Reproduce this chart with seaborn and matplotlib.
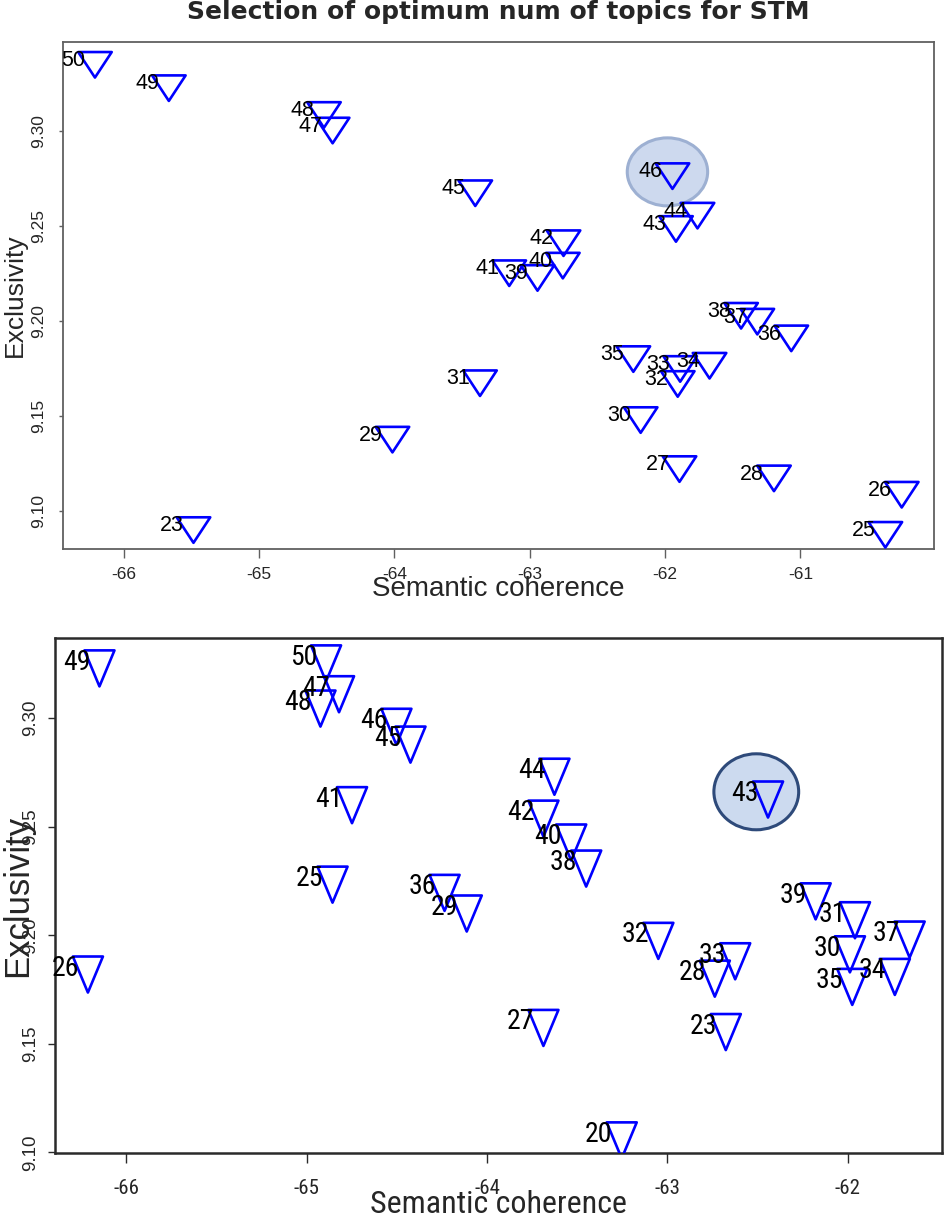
import numpy as np
import pandas as pd
import matplotlib
matplotlib.use('Agg')
import matplotlib.pyplot as plt
from matplotlib import font_manager
from matplotlib.markers import MarkerStyle
from matplotlib.path import Path
from matplotlib.patches import Ellipse
import seaborn as sns

# ---- data ----
top_topics = [50, 49, 48, 47, 46, 45, 44, 43, 42, 41, 40, 39, 38, 37,
              36, 35, 34, 33, 32, 31, 30, 29, 28, 27, 26, 25, 23]
top_coherence = [-66.212, -65.666, -64.520, -64.456, -61.945, -63.402, -61.760,
                 -61.919, -62.750, -63.151, -62.755, -62.942, -61.438, -61.318,
                 -61.067, -62.234, -61.671, -61.888, -61.906, -63.367, -62.180,
                 -64.014, -61.195, -61.893, -60.251, -60.372, -65.484]
top_exclusivity = [9.3370, 9.3247, 9.3106, 9.3024, 9.2784, 9.2694, 9.2576,
                   9.2506, 9.2431, 9.2273, 9.2313, 9.2248, 9.2049, 9.2018,
                   9.1930, 9.1821, 9.1786, 9.1769, 9.1690, 9.1694, 9.1500,
                   9.1397, 9.1193, 9.1242, 9.1107, 9.0896, 9.0921]
top_pick = 46

bottom_topics = [49, 50, 47, 48, 46, 45, 44, 43, 42, 41, 40, 39, 38, 37,
                 36, 35, 34, 33, 32, 31, 30, 29, 28, 27, 26, 25, 23, 20]
bottom_coherence = [-66.148, -64.892, -64.820, -64.923, -64.502, -64.424, -63.626,
                    -62.442, -63.687, -64.748, -63.533, -62.178, -63.450, -61.657,
                    -64.235, -61.975, -61.739, -62.624, -63.050, -61.960, -61.988,
                    -64.112, -62.737, -63.687, -66.212, -64.856, -62.676, -63.253]
bottom_exclusivity = [9.3257, 9.3280, 9.3138, 9.3072, 9.2988, 9.2906, 9.2758,
                      9.2653, 9.2565, 9.2627, 9.2455, 9.2184, 9.2335, 9.2008,
                      9.2223, 9.1790, 9.1836, 9.1908, 9.2002, 9.2097, 9.1940,
                      9.2128, 9.1828, 9.1601, 9.1847, 9.2261, 9.1582, 9.1083]
bottom_pick = 43

top_xticks = [-66, -65, -64, -63, -62, -61]
bottom_xticks = [-66, -65, -64, -63, -62]
yticks = [9.10, 9.15, 9.20, 9.25, 9.30]

title = 'Selection of optimum num of topics for STM'
xlab = 'Semantic coherence'
ylab = 'Exclusivity'

# ---- fonts ----
sns.set_style('white')
names = {f.name for f in font_manager.fontManager.ttflist}
narrow = next((n for n in ['Liberation Sans Narrow', 'DejaVu Sans Condensed',
                           'Roboto Condensed'] if n in names), 'Liberation Sans')
plt.rcParams['font.family'] = ['Liberation Sans', 'DejaVu Sans']
plt.rcParams['axes.unicode_minus'] = False

BLUE = '#0000FF'


def r_limits(v):
    # R's default 4% axis expansion
    lo, hi = min(v), max(v)
    d = (hi - lo) * 0.04
    return lo - d, hi + d


def down_triangle(ratio):
    # R pch=6: point sits on the centroid; ratio = height / width
    a = ratio * 4 / 3
    verts = [(-1, a / 2), (1, a / 2), (0, -a), (-1, a / 2)]
    return MarkerStyle(Path(verts, closed=True), joinstyle='miter')


def draw_panel(ax, topics, coh, exc, pick, xticks, marker, msize, lab_font,
               lab_size, lab_dx, frame_col, frame_lw, circle, circle_fc, circle_ec):
    df = pd.DataFrame({'topic': topics, 'coherence': coh, 'exclusivity': exc})
    sns.scatterplot(data=df, x='coherence', y='exclusivity', marker=marker,
                    s=msize ** 2, facecolors='none', edgecolor=BLUE,
                    linewidth=1.9, legend=False, ax=ax, zorder=3)
    for t, x, y in zip(df['topic'], df['coherence'], df['exclusivity']):
        ax.annotate(str(t), (x, y), xytext=(lab_dx, 0), textcoords='offset points',
                    ha='right', va='center', fontsize=lab_size, family=lab_font,
                    color='black', zorder=4)
    row = df[df['topic'] == pick].iloc[0]
    dx, dy, w, h = circle
    ax.add_patch(Ellipse((row['coherence'] + dx, row['exclusivity'] + dy), w, h,
                         facecolor=circle_fc, edgecolor=circle_ec, lw=2.2, zorder=1))
    ax.set_xlim(*r_limits(coh))
    ax.set_ylim(*r_limits(exc))
    ax.set_xticks(xticks)
    ax.set_xticklabels([f'{v:d}' for v in xticks])
    ax.set_yticks(yticks)
    ax.set_yticklabels([f'{v:.2f}' for v in yticks])
    for s in ax.spines.values():
        s.set_visible(True)
        s.set_color(frame_col)
        s.set_linewidth(frame_lw)
    ax.grid(False)


fig = plt.figure(figsize=(9.44, 12.17), dpi=100)
ax1 = fig.add_axes([0.0664, 0.5486, 0.9230, 0.4171])
ax2 = fig.add_axes([0.0583, 0.0522, 0.9401, 0.4233])

draw_panel(ax1, top_topics, top_coherence, top_exclusivity, top_pick, top_xticks,
           down_triangle(0.761), 24.5, 'Liberation Sans', 15.5, -7,
           '#606060', 1.3, (-0.037, 0.0, 0.594, 0.0358), '#CDD9EE', '#9DB0D2')
draw_panel(ax2, bottom_topics, bottom_coherence, bottom_exclusivity, bottom_pick,
           bottom_xticks, down_triangle(1.2), 34.6, narrow, 20, -6.5,
           '#2a2a2a', 1.8, (-0.065, 0.0008, 0.470, 0.035), '#CCDAEF', '#2E4A7A')

# top panel text
ax1.tick_params(axis='x', length=6.5, width=1, pad=6.0, labelsize=12.5,
                color='#606060', bottom=True)
ax1.tick_params(axis='y', length=3, width=1, pad=9.0, labelsize=12.5,
                labelrotation=90, color='#606060', left=True)
for lab in ax1.get_yticklabels():
    lab.set_va('center')
ax1.set_xlabel(xlab, fontsize=20)
ax1.xaxis.set_label_coords(0.5, -0.052)
ax1.set_ylabel(ylab, fontsize=19, va='center')
ax1.yaxis.set_label_coords(-0.0545, 0.5)

# bottom panel text
ax2.tick_params(axis='x', length=7, width=1, pad=11.5, labelsize=15,
                color='#2a2a2a', bottom=True)
for lab in ax2.get_xticklabels():
    lab.set_family(narrow)
ax2.tick_params(axis='y', length=5, width=1, pad=6.6, labelsize=13.5,
                labelrotation=90, color='#2a2a2a', left=True)
for lab in ax2.get_yticklabels():
    lab.set_va('center')
ax2.set_xlabel(xlab, fontsize=23, family=narrow)
ax2.xaxis.set_label_coords(0.5, -0.071)
ax2.set_ylabel(ylab, fontsize=25, va='center')
ax2.yaxis.set_label_coords(-0.0425, 0.5)

fig.text(0.528, 0.990, title, ha='center', va='center', fontsize=18,
         fontweight='bold', family='DejaVu Sans')

fig.savefig('out.png', dpi=100)
